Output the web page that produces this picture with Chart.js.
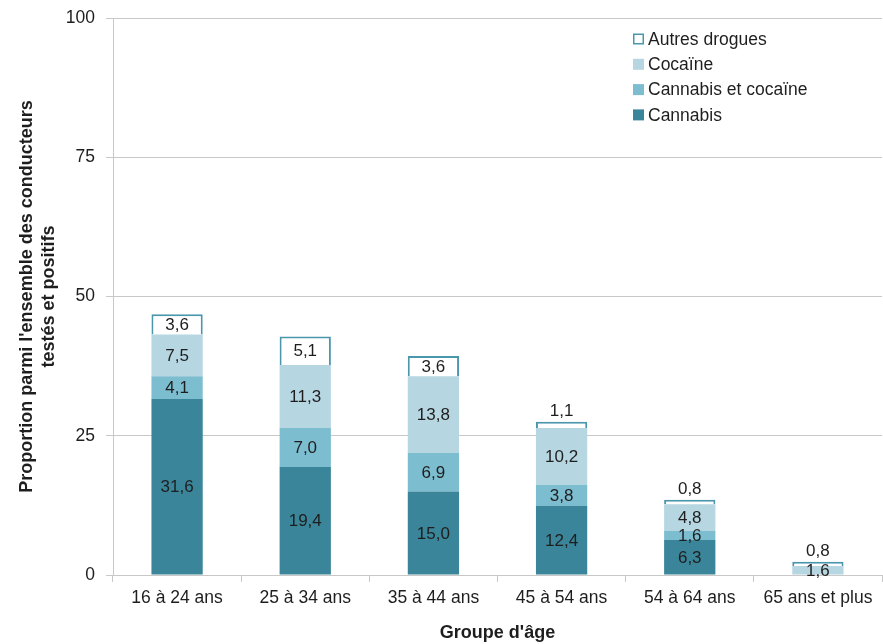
<!DOCTYPE html>
<html>
<head>
<meta charset="utf-8">
<script src="https://cdn.jsdelivr.net/npm/chart.js@4/dist/chart.umd.min.js"></script>
<style>
  html, body { margin: 0; padding: 0; background: #fff; }
  #wrap { width: 883px; height: 644px; }
</style>
</head>
<body>
<div id="wrap"><canvas id="c" width="883" height="644"></canvas></div>
<script>
const groupesAge = ['16 à 24 ans', '25 à 34 ans', '35 à 44 ans', '45 à 54 ans', '54 à 64 ans', '65 ans et plus'];
const cannabis = [31.6, 19.4, 15.0, 12.4, 6.3, 0];
const cannabisCocaine = [4.1, 7.0, 6.9, 3.8, 1.6, 0];
const cocaine = [7.5, 11.3, 13.8, 10.2, 4.8, 1.6];
const autresDrogues = [3.6, 5.1, 3.6, 1.1, 0.8, 0.8];
const yTicks = [0, 25, 50, 75, 100];

const FONT = '"Liberation Sans", Arial, Helvetica, sans-serif';
const TXT = 17.5;
const fmt = v => v.toFixed(1).replace('.', ',');

// Value labels drawn on each segment; thin segments of the top series get theirs above.
const labelPlugin = {
  id: 'segmentLabels',
  afterDatasetsDraw(chart) {
    const ctx = chart.ctx;
    ctx.save();
    ctx.font = '17px ' + FONT;
    ctx.fillStyle = '#1e1e1e';
    ctx.textAlign = 'center';
    chart.data.datasets.forEach((ds, di) => {
      const meta = chart.getDatasetMeta(di);
      meta.data.forEach((bar, i) => {
        const v = ds.data[i];
        if (!v) return;
        if (ds.labelAbove && v < 2) {
          ctx.textBaseline = 'bottom';
          ctx.fillText(fmt(v), bar.x, bar.y - 2);
        } else {
          ctx.textBaseline = 'middle';
          ctx.fillText(fmt(v), bar.x, (bar.y + bar.base) / 2 + 1);
        }
      });
    });
    ctx.restore();
  }
};

// Legend drawn inside the plot area, top right, in reverse stacking order.
const innerLegend = {
  id: 'innerLegend',
  afterDraw(chart) {
    const ctx = chart.ctx;
    const x0 = 633, y0 = 39, step = 25.3, box = 11;
    ctx.save();
    ctx.font = TXT + 'px ' + FONT;
    ctx.textBaseline = 'middle';
    ctx.textAlign = 'left';
    const items = chart.data.datasets.map((d, i) => i).reverse();
    items.forEach((di, k) => {
      const ds = chart.data.datasets[di];
      const y = y0 + k * step;
      ctx.fillStyle = ds.backgroundColor;
      ctx.fillRect(x0, y - box / 2, box, box);
      if (ds.borderWidth) {
        ctx.strokeStyle = ds.borderColor;
        ctx.lineWidth = 1.5;
        ctx.strokeRect(x0 + 0.75, y - box / 2 + 0.75, box - 1.5, box - 1.5);
      }
      ctx.fillStyle = '#1e1e1e';
      ctx.fillText(ds.label, x0 + box + 4, y + 1);
    });
    ctx.restore();
  }
};

new Chart(document.getElementById('c'), {
  type: 'bar',
  data: {
    labels: groupesAge,
    datasets: [
      { label: 'Cannabis', data: cannabis, backgroundColor: '#3a8599', borderWidth: 0 },
      { label: 'Cannabis et cocaïne', data: cannabisCocaine, backgroundColor: '#7dbdd0', borderWidth: 0 },
      { label: 'Cocaïne', data: cocaine, backgroundColor: '#b6d6e1', borderWidth: 0 },
      { label: 'Autres drogues', data: autresDrogues, backgroundColor: '#ffffff', borderColor: '#4a97ad', borderWidth: 2, labelAbove: true }
    ]
  },
  options: {
    responsive: false,
    animation: false,
    devicePixelRatio: 1,
    layout: { padding: { top: 18, right: 1, bottom: 0, left: 0 } },
    datasets: { bar: { barPercentage: 0.4, categoryPercentage: 1.0 } },
    plugins: {
      legend: { display: false },
      tooltip: { enabled: false }
    },
    scales: {
      x: {
        stacked: true,
        afterFit(scale) { scale.height = 69; },
        grid: { drawOnChartArea: false, drawTicks: true, tickLength: 7, color: '#c8c8c8', offset: true },
        border: { display: true, color: '#c8c8c8' },
        ticks: { color: '#1e1e1e', font: { family: FONT, size: TXT }, padding: 6 },
        title: { display: true, text: "Groupe d'âge", color: '#1e1e1e', font: { family: FONT, size: 18, weight: 'bold' }, padding: { top: 8, bottom: 0 } }
      },
      y: {
        stacked: true,
        min: 0, max: 100,
        afterFit(scale) { scale.width = 113; scale.paddingTop = 0; scale.paddingBottom = 0; },
        afterBuildTicks(axis) { axis.ticks = yTicks.map(v => ({ value: v })); },
        grid: { color: '#c8c8c8', tickLength: 7 },
        border: { display: true, color: '#c8c8c8' },
        ticks: { color: '#1e1e1e', font: { family: FONT, size: TXT }, padding: 11 },
        title: { display: true, text: ["Proportion parmi l'ensemble des conducteurs", 'testés et positifs'], color: '#1e1e1e', font: { family: FONT, size: 18, weight: 'bold', lineHeight: 1.17 }, padding: { top: 17, bottom: 0 } }
      }
    }
  },
  plugins: [labelPlugin, innerLegend]
});
</script>
</body>
</html>
